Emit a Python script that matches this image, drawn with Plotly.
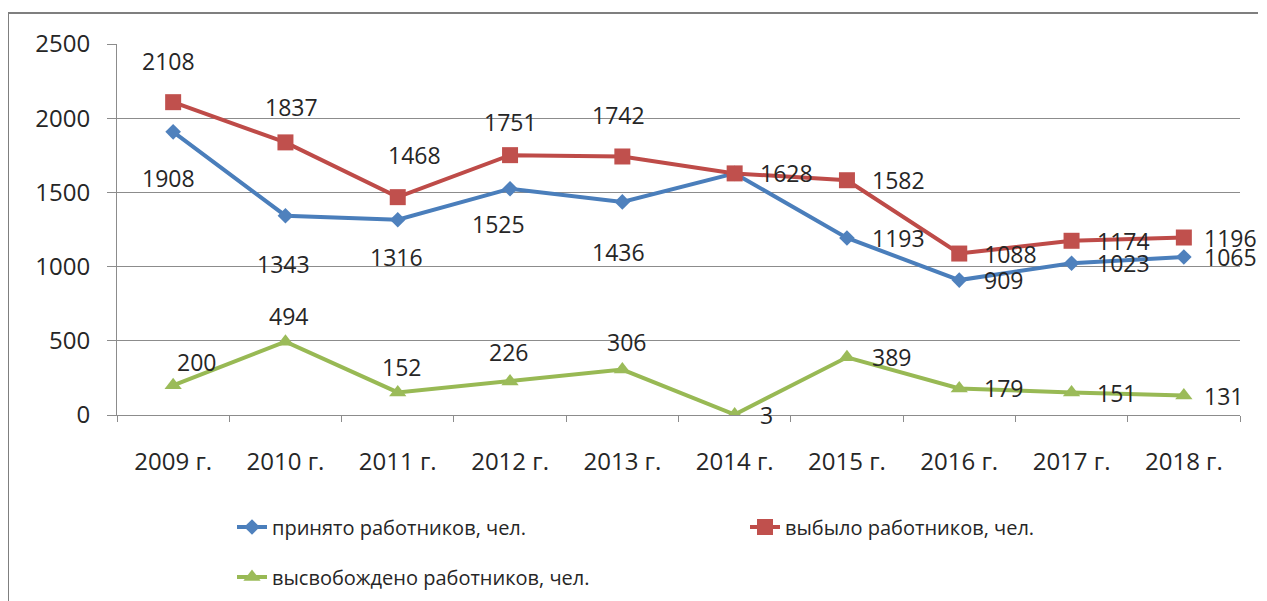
import plotly.graph_objects as go

years = ["2009 г.", "2010 г.", "2011 г.", "2012 г.", "2013 г.",
         "2014 г.", "2015 г.", "2016 г.", "2017 г.", "2018 г."]
hired = [1908, 1343, 1316, 1525, 1436, 1628, 1193, 909, 1023, 1065]
left_staff = [2108, 1837, 1468, 1751, 1742, 1628, 1582, 1088, 1174, 1196]
released = [200, 494, 152, 226, 306, 3, 389, 179, 151, 131]

names = ["принято работников, чел.", "выбыло работников, чел.", "высвобождено работников, чел."]

# label placement: (dx, dy) pixel offset of label centre, "r" = right of marker, None = hidden
hired_lbl = [(-5, 46), (-2, 48), (-1, 37), (-12, 35), (-4, 50), None, "r", "r", "r", "r"]
left_lbl = [(-5, -41), (6, -35), (17, -42), (0, -33), (-4, -41), "r", "r", "r", "r", "r"]
rel_lbl = [(23, -23), (3, -26), (4, -25), (-2, -29), (4, -28), "r", "r", "r", "r", "r"]

FONT = "Open Sans"
TXT = "#262626"
GRID = "#8c8c8c"

fig = go.Figure()
series = [
    (hired, names[0], "#4A7EBB", "#4F81BD", "diamond", 12, "legend"),
    (left_staff, names[1], "#BE4B48", "#C0504D", "square", 16, "legend"),
    (released, names[2], "#98B954", "#9BBB59", "triangle-up", 15, "legend2"),
]
for vals, nm, lc, mc, sym, ms, lg in series:
    fig.add_trace(go.Scatter(
        x=years, y=vals, name=nm, mode="lines+markers",
        line=dict(color=lc, width=4),
        marker=dict(color=mc, symbol=sym, size=ms, line=dict(width=0)),
        legend=lg, hoverinfo="skip"))

annotations = []
for vals, offs in [(hired, hired_lbl), (left_staff, left_lbl), (released, rel_lbl)]:
    for i, (cat, v, o) in enumerate(zip(years, vals, offs)):
        if o is None:
            continue
        if o == "r":
            annotations.append(dict(x=cat, y=v, text=str(v), showarrow=False,
                                    xanchor="left", yanchor="middle",
                                    xshift=18 if i == len(years) - 1 else 23,
                                    font=dict(family=FONT, size=23, color=TXT)))
        else:
            annotations.append(dict(x=cat, y=v, text=str(v), showarrow=False,
                                    xanchor="center", yanchor="middle",
                                    xshift=o[0], yshift=-o[1],
                                    font=dict(family=FONT, size=23, color=TXT)))

fig.update_layout(
    template="none",
    width=1250, height=593,
    margin=dict(l=109, r=18, t=36, b=186, autoexpand=False),
    paper_bgcolor="white", plot_bgcolor="white",
    font=dict(family=FONT, size=22, color=TXT),
    annotations=annotations,
    showlegend=True,
    legend=dict(orientation="h", x=(232 - 117) / 1123, xanchor="left",
                y=(415 - 527) / 371, yanchor="middle",
                entrywidth=468, entrywidthmode="pixels",
                font=dict(family=FONT, size=20, color=TXT),
                bgcolor="rgba(0,0,0,0)", borderwidth=0),
    legend2=dict(orientation="h", x=(232 - 117) / 1123, xanchor="left",
                 y=(415 - 577) / 371, yanchor="middle",
                 font=dict(family=FONT, size=20, color=TXT),
                 bgcolor="rgba(0,0,0,0)", borderwidth=0),
    xaxis=dict(type="category", range=[-0.5, len(years) - 0.5],
               showgrid=False, showline=True, linecolor=GRID, linewidth=1,
               ticks="outside", tickson="boundaries", ticklen=6, tickcolor=GRID,
               tickfont=dict(family=FONT, size=24, color=TXT), ticklabelstandoff=25,
               zeroline=False, fixedrange=True),
    yaxis=dict(range=[0, 2500], dtick=500, showgrid=True, gridcolor=GRID, gridwidth=1,
               showline=True, linecolor=GRID, linewidth=1,
               ticks="outside", ticklen=9, tickcolor=GRID,
               tickfont=dict(family=FONT, size=24, color=TXT), ticklabelstandoff=12,
               zeroline=False, fixedrange=True),
    shapes=[dict(type="rect", xref="paper", yref="paper",
                 x0=(8 - 117) / 1123, x1=1.2, y0=-0.8, y1=(415 - 13) / 371,
                 line=dict(color="#7f7f7f", width=2), fillcolor="rgba(0,0,0,0)", layer="below")],
)

fig.write_html("out.html")
